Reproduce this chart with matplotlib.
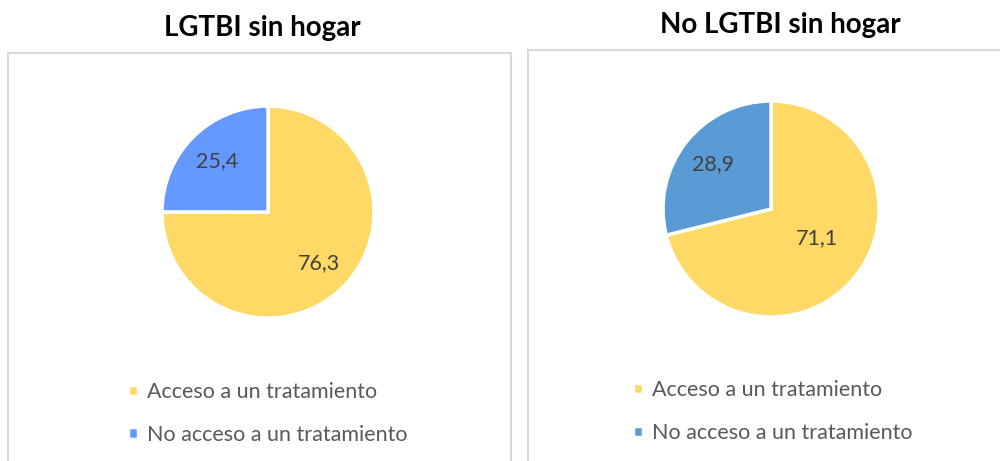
import matplotlib.pyplot as plt
import numpy as np
from matplotlib.patches import Rectangle

plt.rcParams['font.family'] = ['Lato', 'DejaVu Sans']

# datos de cada grupo (porcentajes)
categorias = ['Acceso a un tratamiento', 'No acceso a un tratamiento']
lgtbi = [76.3, 25.4]
no_lgtbi = [71.1, 28.9]
titulos = ['LGTBI sin hogar', 'No LGTBI sin hogar']

amarillo = '#FFD966'
colores_izq = [amarillo, '#6699FF']
colores_der = [amarillo, '#5B9BD5']

fig = plt.figure(figsize=(10, 4.61), dpi=100)

# marcos grises de cada panel
fig.patches.append(Rectangle((0.008, -0.05), 0.503, 0.935, transform=fig.transFigure,
                             fill=False, edgecolor='#D9D9D9', linewidth=1.5))
fig.patches.append(Rectangle((0.528, -0.05), 0.5, 0.941, transform=fig.transFigure,
                             fill=False, edgecolor='#D9D9D9', linewidth=1.5))


def tarta(pos, valores, colores, titulo, tpos, dist, leg_pos):
    ax = fig.add_axes(pos)
    wedges, _ = ax.pie(valores, colors=colores, startangle=90, counterclock=False,
                       wedgeprops=dict(edgecolor='white', linewidth=2.5))
    ax.set_xlim(-1, 1)
    ax.set_ylim(-1, 1)
    ax.set_aspect('equal')
    # etiquetas con el valor de cada sector
    for w, v, d in zip(wedges, valores, dist):
        ang = np.deg2rad((w.theta1 + w.theta2) / 2)
        ax.text(d[0] * np.cos(ang + d[1]), d[0] * np.sin(ang + d[1]),
                f'{v:.1f}'.replace('.', ','), ha='center', va='center',
                fontsize=15.5, color='#404040')
    fig.text(tpos[0], tpos[1], titulo, ha='center', va='center',
             fontsize=20, fontweight='bold', color='black')
    ax.legend(wedges, categorias, loc='center left', bbox_to_anchor=leg_pos,
              bbox_transform=fig.transFigure, frameon=False, fontsize=15.5,
              labelcolor='#595959', handlelength=0.45, handleheight=0.45,
              handletextpad=0.45, labelspacing=1.05, borderpad=0, borderaxespad=0)


tarta([0.162, 0.310, 0.212, 0.460], lgtbi, colores_izq, titulos[0],
      (0.262, 0.939), [(0.68, 0.0), (0.68, 0.0)], (0.128, 0.103))
tarta([0.663, 0.3124, 0.216, 0.4685], no_lgtbi, colores_der, titulos[1],
      (0.780, 0.946), [(0.50, 0.1), (0.68, 0.0)], (0.633, 0.107))

plt.savefig('out.png', dpi=100)
